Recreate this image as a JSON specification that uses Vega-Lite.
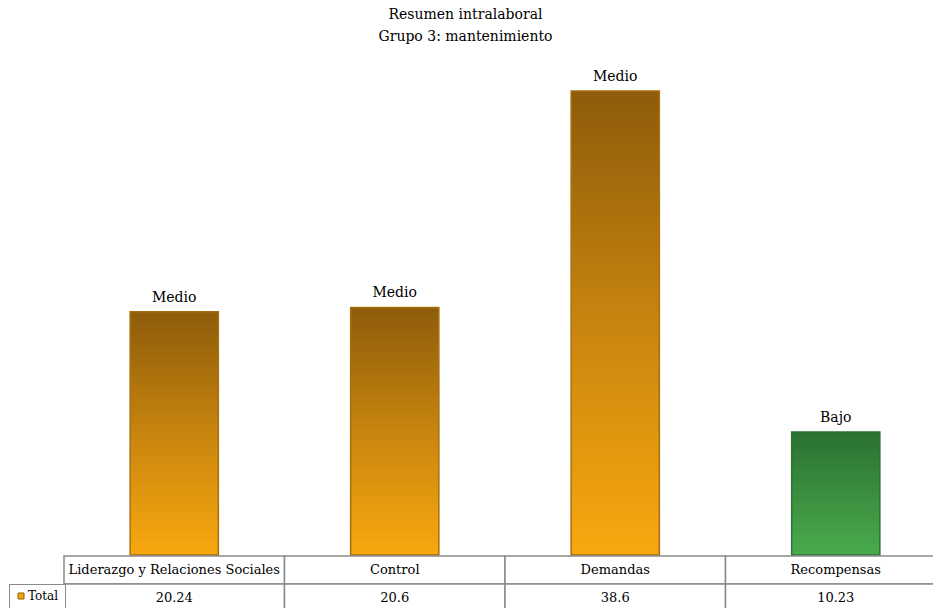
{
  "$schema": "https://vega.github.io/schema/vega-lite/v6.json",
  "width": 869,
  "height": 553,
  "autosize": {"type": "none"},
  "padding": {"left": 64, "top": 55, "right": 0, "bottom": 0},
  "background": "white",
  "config": {
    "font": "DejaVu Serif",
    "view": {"stroke": null}
  },
  "title": {
    "text": ["Resumen intralaboral", "Grupo 3: mantenimiento"],
    "font": "DejaVu Serif",
    "fontSize": 14,
    "fontWeight": "normal",
    "color": "#000000",
    "lineHeight": 22,
    "anchor": "middle",
    "frame": "group",
    "dx": -33,
    "offset": 11
  },
  "data": {
    "values": [
      {"dimension": "Liderazgo y Relaciones Sociales", "serie": "Total", "total": 20.24, "nivel": "Medio"},
      {"dimension": "Control", "serie": "Total", "total": 20.6, "nivel": "Medio"},
      {"dimension": "Demandas", "serie": "Total", "total": 38.6, "nivel": "Medio"},
      {"dimension": "Recompensas", "serie": "Total", "total": 10.23, "nivel": "Bajo"}
    ]
  },
  "layer": [
    {
      "encoding": {
        "x": {"field": "dimension", "type": "nominal", "sort": null, "axis": null,
              "scale": {"range": [0, 882], "paddingInner": 0.6, "paddingOuter": 0.3}},
        "y": {"field": "total", "type": "quantitative", "axis": null,
              "scale": {"domain": [0, 41.6], "range": [500, 0]}}
      },
      "layer": [
        {
          "transform": [{"filter": {"field": "nivel", "equal": "Medio"}}],
          "mark": {
            "type": "bar",
            "fill": {
              "gradient": "linear", "x1": 0, "y1": 0, "x2": 0, "y2": 1,
              "stops": [
                {"offset": 0, "color": "#8d5b0a"},
                {"offset": 0.5, "color": "#c8850f"},
                {"offset": 1, "color": "#f8a80f"}
              ]
            },
            "stroke": "#a86f0c",
            "strokeWidth": 1.5
          }
        },
        {
          "transform": [{"filter": {"field": "nivel", "equal": "Bajo"}}],
          "mark": {
            "type": "bar",
            "fill": {
              "gradient": "linear", "x1": 0, "y1": 0, "x2": 0, "y2": 1,
              "stops": [
                {"offset": 0, "color": "#2b7130"},
                {"offset": 1, "color": "#49ab4d"}
              ]
            },
            "stroke": "#2f6e33",
            "strokeWidth": 1.5
          }
        },
        {
          "mark": {"type": "text", "baseline": "bottom", "dy": -7, "fontSize": 14, "color": "#000000", "font": "DejaVu Serif"},
          "encoding": {"text": {"field": "nivel", "type": "nominal"}}
        }
      ]
    },
    {
      "encoding": {
        "x": {"field": "dimension", "type": "nominal", "sort": null, "axis": null,
              "scale": {"range": [0, 882], "paddingInner": 0, "paddingOuter": 0}}
      },
      "layer": [
        {
          "mark": {"type": "rect", "fill": "white", "stroke": "#8a8a8a", "strokeWidth": 1.5},
          "encoding": {
            "y": {"datum": 0, "type": "quantitative", "axis": null, "scale": {"domain": [0, 2], "range": [501, 557]}},
            "y2": {"datum": 1}
          }
        },
        {
          "mark": {"type": "rect", "fill": "white", "stroke": "#8a8a8a", "strokeWidth": 1.5},
          "encoding": {
            "y": {"datum": 1, "type": "quantitative", "axis": null, "scale": {"domain": [0, 2], "range": [501, 557]}},
            "y2": {"datum": 2}
          }
        },
        {
          "mark": {"type": "text", "fontSize": 13, "color": "#000000", "font": "DejaVu Serif"},
          "encoding": {
            "y": {"datum": 0.5, "type": "quantitative", "axis": null, "scale": {"domain": [0, 2], "range": [501, 557]}},
            "text": {"field": "dimension", "type": "nominal"}
          }
        },
        {
          "mark": {"type": "text", "fontSize": 13, "color": "#000000", "font": "DejaVu Serif"},
          "encoding": {
            "y": {"datum": 1.5, "type": "quantitative", "axis": null, "scale": {"domain": [0, 2], "range": [501, 557]}},
            "text": {"field": "total", "type": "quantitative", "format": "~g"}
          }
        },
        {
          "mark": {"type": "square", "opacity": 0},
          "encoding": {
            "y": {"datum": 1.5, "type": "quantitative", "axis": null, "scale": {"domain": [0, 2], "range": [501, 557]}},
            "color": {
              "field": "serie", "type": "nominal",
              "scale": {"range": ["#f0a010"]},
              "legend": {
                "title": null,
                "orient": "none",
                "legendX": -55,
                "legendY": 529,
                "strokeColor": "#8a8a8a",
                "fillColor": "white",
                "padding": 6,
                "symbolType": "square",
                "symbolSize": 36,
                "symbolOpacity": 1,
                "symbolStrokeColor": "#9a6000",
                "symbolStrokeWidth": 1,
                "labelFont": "DejaVu Serif",
                "labelFontSize": 12,
                "labelColor": "#000000",
                "labelOffset": 1
              }
            }
          }
        }
      ]
    }
  ],
  "resolve": {"scale": {"x": "independent", "y": "independent"}}
}
